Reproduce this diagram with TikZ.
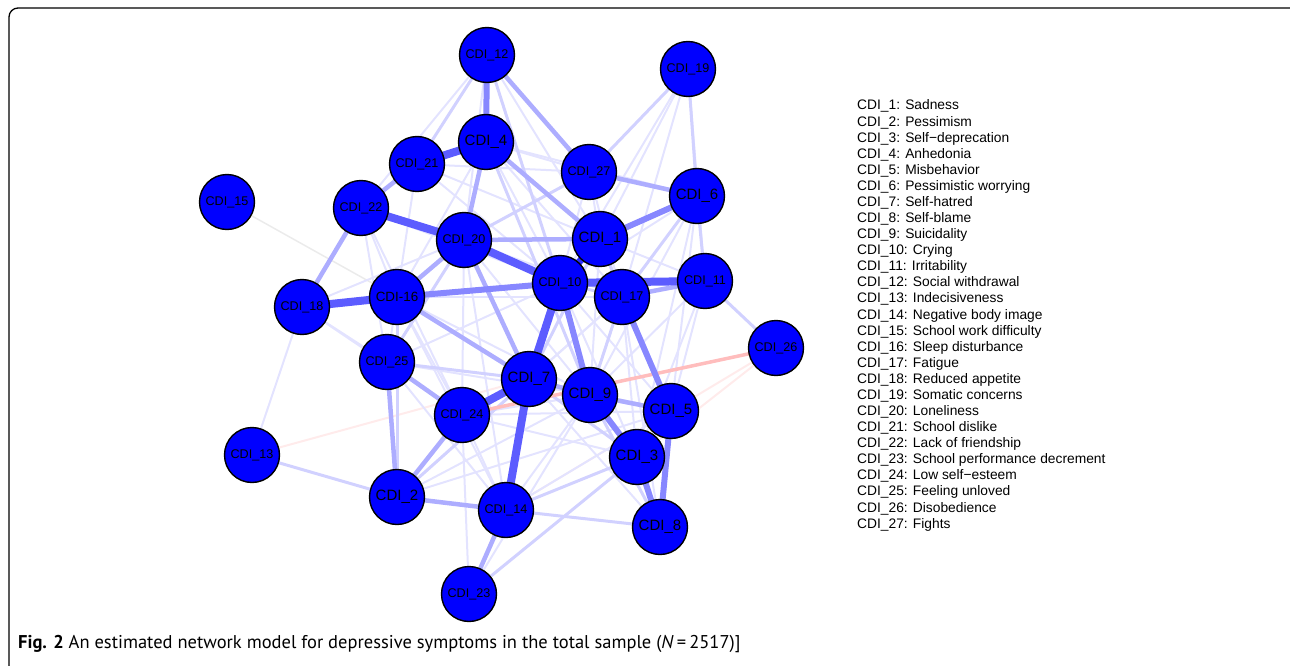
\documentclass[tikz,border=0pt]{standalone}
\usepackage{fontspec}
\setmainfont{Liberation Sans}
\newfontfamily\capfont{PT Sans}
\usetikzlibrary{backgrounds}
\begin{document}
\begin{tikzpicture}[x=1pt,y=-1pt,
  nd/.style={circle,draw=black,line width=1.4pt,fill=blue,minimum size=55pt,inner sep=0pt,font=\fontsize{12.6}{14}\selectfont},
  ns/.style={nd,font=\fontsize{15}{16}\selectfont},
  lg/.style={anchor=base west,inner sep=0pt,font=\fontsize{13.8}{15}\selectfont},
  ea/.style={line width=2pt,draw=blue!11},
  eb/.style={line width=3pt,draw=blue!18},
  ec/.style={line width=4.5pt,draw=blue!32},
  ed/.style={line width=6pt,draw=blue!47},
  ee/.style={line width=8pt,draw=blue!64},
  ef/.style={line width=7pt,draw=blue!82},
  ng/.style={line width=3.5pt,draw=red!26},
  nga/.style={line width=2pt,draw=red!8},
  faint/.style={line width=1.5pt,draw=black!8}]
\useasboundingbox (0,0) rectangle (1290,666);
\draw[line width=1.3pt,rounded corners=9pt] (9,666) -- (9,8) -- (1290,8);
% nodes
\node[ns] (n1) at (600,239) {CDI\_1};
\node[ns] (n2) at (397,497) {CDI\_2};
\node[ns] (n3) at (637,457) {CDI\_3};
\node[ns] (n4) at (486,142) {CDI\_4};
\node[ns] (n5) at (671,411) {CDI\_5};
\node[ns] (n6) at (697,196) {CDI\_6};
\node[ns] (n7) at (529,379) {CDI\_7};
\node[ns] (n8) at (660,527) {CDI\_8};
\node[ns] (n9) at (590,395) {CDI\_9};
\node[nd] (n10) at (560,283) {CDI\_10};
\node[nd] (n11) at (705,281) {CDI\_11};
\node[nd] (n12) at (487,55) {CDI\_12};
\node[nd] (n13) at (252,455) {CDI\_13};
\node[nd] (n14) at (506,510) {CDI\_14};
\node[nd] (n15) at (227,202) {CDI\_15};
\node[nd,font=\fontsize{13.4}{15}\selectfont] (n16) at (397,297) {CDI-16};
\node[nd] (n17) at (622,297) {CDI\_17};
\node[nd] (n18) at (302,307) {CDI\_18};
\node[nd] (n19) at (688,69) {CDI\_19};
\node[nd] (n20) at (464,240) {CDI\_20};
\node[nd] (n21) at (417,164) {CDI\_21};
\node[nd] (n22) at (361,208) {CDI\_22};
\node[nd] (n23) at (469,594) {CDI\_23};
\node[nd] (n24) at (462,415) {CDI\_24};
\node[nd] (n25) at (387,362) {CDI\_25};
\node[nd] (n26) at (776,348) {CDI\_26};
\node[nd] (n27) at (589,172) {CDI\_27};
% edges
\begin{scope}[on background layer]
\draw[faint] (n15.center) -- (n16.center);
\draw[nga] (n13.center) -- (n7.center);
\draw[nga] (n26.center) -- (n14.center);
\draw[nga] (n26.center) -- (n3.center);
\foreach \a/\b in {19/1,19/10,19/17,19/11,12/22,12/20,12/1,21/27,21/1,21/10,22/16,22/25,22/24,
  4/27,4/6,4/16,4/10,4/17,27/1,27/10,27/17,6/10,6/9,6/5,11/1,11/9,11/5,11/3,
  18/25,18/20,18/24,25/20,25/9,25/10,25/14,25/16,16/24,16/9,16/14,16/17,
  20/9,20/24,20/14,24/9,24/14,24/3,24/5,24/23,2/17,2/9,2/5,14/9,14/5,
  23/9,7/8,7/5,7/17,9/17,1/9,1/5,10/3,10/5,3/5,17/3,13/18,21/16,22/10,20/17,6/3,17/8}
  {\draw[ea] (n\a.center) -- (n\b.center);}
\foreach \a/\b in {19/27,19/6,12/21,27/20,6/17,6/11,13/2,23/3,14/8,14/3,7/3,2/7,1/17,25/7,20/25,12/10,4/9,10/17,17/9,9/8,7/1,2/16}
  {\draw[eb] (n\a.center) -- (n\b.center);}
\draw[eb] (n11.center) -- (n26.center);
\foreach \a/\b in {12/27,4/1,4/20,20/1,16/20,22/18,22/21,25/2,14/23,2/14,9/5,7/9,27/6,16/7,20/7,17/11,24/2,25/24}
  {\draw[ec] (n\a.center) -- (n\b.center);}
\draw[ng] (n26.center) -- (n24.center);
\foreach \a/\b in {12/4,16/10,1/6,17/5,10/9,9/3,3/8,5/8}
  {\draw[ed] (n\a.center) -- (n\b.center);}
\foreach \a/\b in {21/4,22/20,18/16,10/11,20/10,7/10,7/24,7/14}
  {\draw[ee] (n\a.center) -- (n\b.center);}
\draw[ef] (n1.center) -- (n10.center);
\end{scope}
% legend
\foreach \t [count=\i from 0] in {CDI\_1: Sadness,CDI\_2: Pessimism,CDI\_3: Self−deprecation,CDI\_4: Anhedonia,CDI\_5: Misbehavior,CDI\_6: Pessimistic worrying,CDI\_7: Self-hatred,CDI\_8: Self-blame,CDI\_9: Suicidality,CDI\_10: Crying,CDI\_11: Irritability,CDI\_12: Social withdrawal,CDI\_13: Indecisiveness,CDI\_14: Negative body image,CDI\_15: School work difficulty,CDI\_16: Sleep disturbance,CDI\_17: Fatigue,CDI\_18: Reduced appetite,CDI\_19: Somatic concerns,CDI\_20: Loneliness,CDI\_21: School dislike,CDI\_22: Lack of friendship,CDI\_23: School performance decrement,CDI\_24: Low self−esteem,CDI\_25: Feeling unloved,CDI\_26: Disobedience,CDI\_27: Fights}
  {\node[lg] (l\i) at (857,110+16.08*\i) {\t};}
% caption
\node[anchor=base west,inner sep=0pt,font=\capfont\fontsize{18.5}{21}\selectfont] (cap) at (18,648) {\textbf{Fig. 2} An estimated network model for depressive symptoms in the total sample (\textit{N}\,=\,2517)]};
\end{tikzpicture}
\end{document}
